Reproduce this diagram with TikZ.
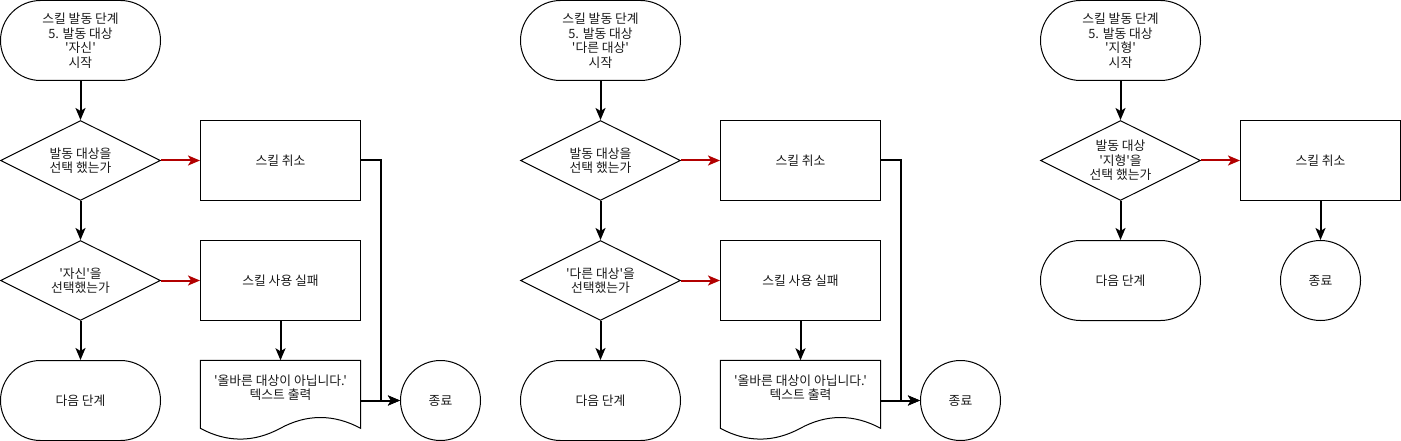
\documentclass[tikz,border=0pt]{standalone}
\usepackage{fontspec}
\newfontfamily\kr{Noto Sans CJK KR}[Ligatures=TeXOff]
\usetikzlibrary{shapes.geometric,arrows.meta,calc}
\definecolor{flowred}{HTML}{B20000}
\definecolor{txt}{HTML}{1A1A1A}
\tikzset{
  base/.style={draw=black, line width=1pt, font=\kr\fontsize{12.8}{14.5}\selectfont, text=txt, align=center, inner sep=0pt},
  term/.style={base, rectangle, rounded corners=40pt, minimum width=160pt, minimum height=80pt},
  proc/.style={base, rectangle, minimum width=160pt, minimum height=80pt},
  decide/.style={base, diamond, aspect=2, minimum width=160pt, minimum height=80pt},
  endc/.style={base, circle, minimum size=80pt},
  docbox/.style={rectangle, minimum width=160pt, minimum height=80pt, inner sep=0pt},
  doclabel/.style={font=\kr\fontsize{12.8}{14.5}\selectfont, text=txt, align=center, inner sep=0pt},
  conn/.style={line width=2pt, draw=black, -{Stealth[length=12pt,width=10pt,inset=3pt]}},
  redconn/.style={conn, draw=flowred, -{Stealth[length=12pt,width=10pt,inset=3pt,flowred]}},
}
\begin{document}
\begin{tikzpicture}[x=1pt,y=-1pt]
\useasboundingbox (0,0) rectangle (1401,441);
\begin{scope}[shift={(0.5,0.5)}]
% ---------- chart 1 ----------
\node[term]   (s1) at (80,40)  {스킬 발동 단계\\5. 발동 대상\\'자신'\\시작};
\node[decide] (d1a) at (80,160) {발동 대상을\\선택 했는가};
\node[decide] (d1b) at (80,280) {'자신'을\\선택했는가};
\node[term]   (n1) at (80,400) {다음 단계};
\node[proc]   (c1) at (280,160) {스킬 취소};
\node[proc]   (f1) at (280,280) {스킬 사용 실패};
\node[docbox] (doc1) at (280,400) {};
\draw[line width=1pt] (doc1.north west) -- (doc1.north east) -- ($(doc1.north east)+(0,68)$)
  .. controls ($(doc1.north west)+(133.33,53.6)$) and ($(doc1.north west)+(106.67,53.6)$) .. ($(doc1.north west)+(80,68)$)
  .. controls ($(doc1.north west)+(53.33,82.4)$) and ($(doc1.north west)+(26.67,82.4)$) .. ($(doc1.north west)+(0,68)$) -- cycle;
\node[doclabel] (t1) at (280,387) {'올바른 대상이 아닙니다.'\\텍스트 출력};
\node[endc]   (e1) at (440,400) {종료};
\draw[conn] (s1) -- (d1a);
\draw[conn] (d1a) -- (d1b);
\draw[conn] (d1b) -- (n1);
\draw[redconn] (d1a) -- (c1);
\draw[redconn] (d1b) -- (f1);
\draw[conn] (f1) -- (doc1);
\draw[conn] (c1.east) -- ++(20,0) |- (e1.west);
\draw[conn] (doc1.east) -- (e1.west);
% ---------- chart 2 ----------
\node[term]   (s2) at (600,40)  {스킬 발동 단계\\5. 발동 대상\\'다른 대상'\\시작};
\node[decide] (d2a) at (600,160) {발동 대상을\\선택 했는가};
\node[decide] (d2b) at (600,280) {'다른 대상'을\\선택했는가};
\node[term]   (n2) at (600,400) {다음 단계};
\node[proc]   (c2) at (800,160) {스킬 취소};
\node[proc]   (f2) at (800,280) {스킬 사용 실패};
\node[docbox] (doc2) at (800,400) {};
\draw[line width=1pt] (doc2.north west) -- (doc2.north east) -- ($(doc2.north east)+(0,68)$)
  .. controls ($(doc2.north west)+(133.33,53.6)$) and ($(doc2.north west)+(106.67,53.6)$) .. ($(doc2.north west)+(80,68)$)
  .. controls ($(doc2.north west)+(53.33,82.4)$) and ($(doc2.north west)+(26.67,82.4)$) .. ($(doc2.north west)+(0,68)$) -- cycle;
\node[doclabel] (t2) at (800,387) {'올바른 대상이 아닙니다.'\\텍스트 출력};
\node[endc]   (e2) at (960,400) {종료};
\draw[conn] (s2) -- (d2a);
\draw[conn] (d2a) -- (d2b);
\draw[conn] (d2b) -- (n2);
\draw[redconn] (d2a) -- (c2);
\draw[redconn] (d2b) -- (f2);
\draw[conn] (f2) -- (doc2);
\draw[conn] (c2.east) -- ++(20,0) |- (e2.west);
\draw[conn] (doc2.east) -- (e2.west);
% ---------- chart 3 ----------
\node[term]   (s3) at (1120,40)  {스킬 발동 단계\\5. 발동 대상\\'지형'\\시작};
\node[decide] (d3) at (1120,160) {발동 대상\\'지형'을\\선택 했는가};
\node[term]   (n3) at (1120,280) {다음 단계};
\node[proc]   (c3) at (1320,160) {스킬 취소};
\node[endc]   (e3) at (1320,280) {종료};
\draw[conn] (s3) -- (d3);
\draw[conn] (d3) -- (n3);
\draw[redconn] (d3) -- (c3);
\draw[conn] (c3) -- (e3);
\end{scope}
\end{tikzpicture}
\end{document}
